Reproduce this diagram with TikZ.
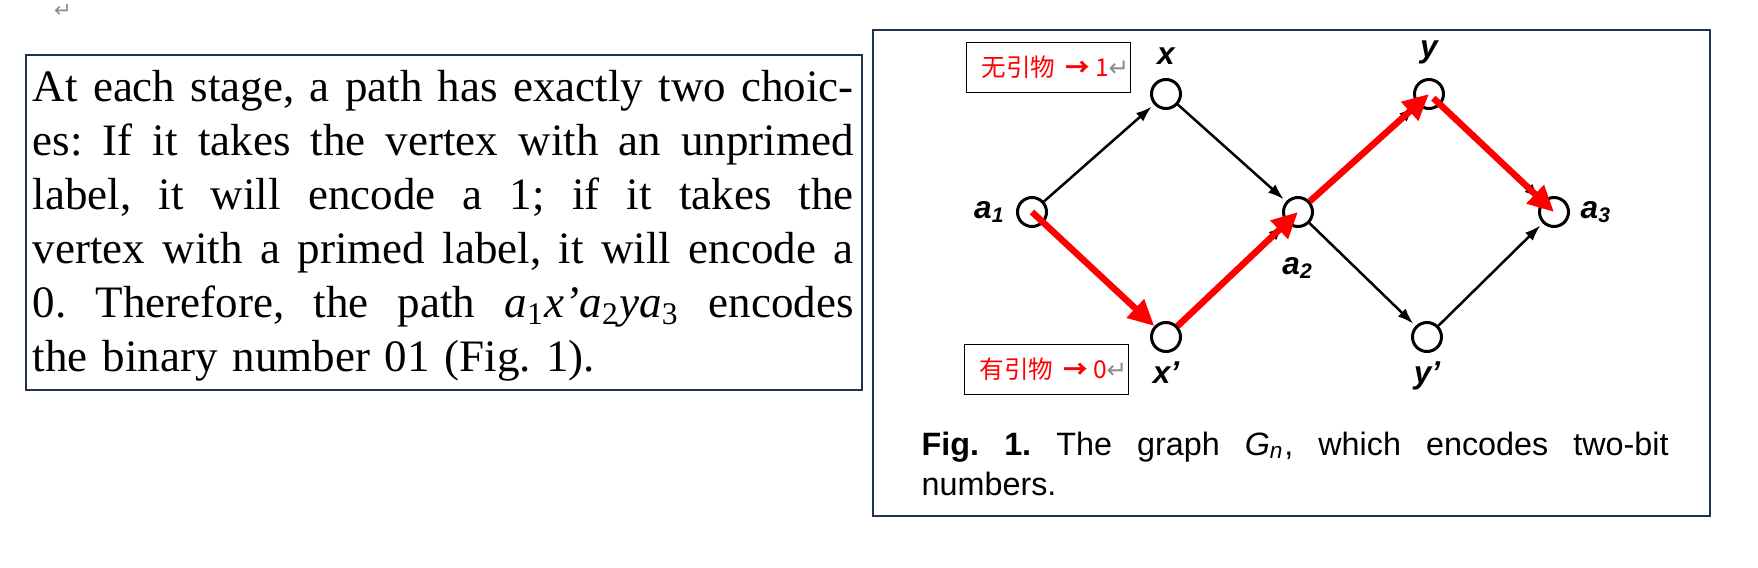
\documentclass[tikz,border=0pt]{standalone}
\usepackage{fontspec}
\usepackage{tikz}
\usepackage{xcolor}
\usetikzlibrary{arrows.meta,calc,positioning}
\setmainfont{Liberation Serif}
\setsansfont{Liberation Sans}
\newfontfamily\cjkfont{Noto Sans CJK SC}
\newfontfamily\markfont{DejaVu Sans}
\definecolor{frameNavy}{RGB}{31,50,80}
\definecolor{pathRed}{RGB}{255,0,0}
\definecolor{markGray}{RGB}{140,140,140}
\newcommand{\retmark}{{\markfont\color{markGray}↵}}
\newcommand{\spreadline}[2]{\makebox[#1][s]{\frenchspacing\spaceskip=0.25em plus 3em minus 0.05em\relax #2}\par}
\newcommand{\primerchip}[3]{%
  \node[
    draw=black,
    line width=0.1mm,
    minimum width=16.4mm,
    minimum height=5mm,
    inner xsep=0pt,
    anchor=north west,
    text=pathRed,
    font=\cjkfont\fontsize{7}{8}\selectfont
  ] (#1) at (#2) {\hspace*{1.4mm}#3};
}
\tikzset{
  vertex/.style={circle,draw=black,fill=white,line width=0.3mm,minimum size=2.9mm,inner sep=0pt},
  vlabel/.style={inner sep=0pt,font=\sffamily\bfseries\itshape\fontsize{9}{10}\selectfont},
  linkarrow/.style={-{Latex[length=1.6mm,width=1.1mm]},line width=0.25mm,shorten >=0.3mm},
  redpath/.style={-{Triangle[length=2.6mm,width=2.4mm]},draw=pathRed,line width=0.65mm},
  panelframe/.style={draw=frameNavy,line width=0.25mm}
}

\begin{document}
\begin{tikzpicture}[x=0.1mm,y=-0.1mm]
  \useasboundingbox (0,0) rectangle (1758,568);
  \node[inner sep=0pt,text=markGray,font=\markfont\fontsize{6}{7}\selectfont] (topmark) at (63,11) {↵};
  % left panel: the quoted passage
  \draw[panelframe] (26,55) rectangle (862,390);
  \node[anchor=base west,inner sep=0pt,text width=82.1mm,
        font=\fontsize{12.8}{15.42}\selectfont] (passage) at (32,101) {%
    \spreadline{82.1mm}{At each stage, a path has exactly two choic-}
    \spreadline{82.1mm}{es: If it takes the vertex with an unprimed}
    \spreadline{82.1mm}{label, it will encode a 1; if it takes the}
    \spreadline{82.1mm}{vertex with a primed label, it will encode a}
    \spreadline{82.1mm}{0. Therefore, the path \textit{a}\textsubscript{1}\textit{x\textquoteright a}\textsubscript{2}\textit{ya}\textsubscript{3} encodes}
    the binary number 01 (Fig.~1).};
  % right panel: the graph
  \draw[panelframe] (873,30) rectangle (1710,516);
  \node[vertex] (a1) at (1032,212) {};
  \node[vertex] (x) at (1166,94) {};
  \node[vertex] (xp) at (1166,337) {};
  \node[vertex] (a2) at (1298,212) {};
  \node[vertex] (y) at (1429,94) {};
  \node[vertex] (yp) at (1427,337) {};
  \node[vertex] (a3) at (1554,212) {};
  \node[vlabel,left=1mm of a1] (la1) {a\textsubscript{1}};
  \node[vlabel,above=1.3mm of x] (lx) {x};
  \node[vlabel,below=0.8mm of xp] (lxp) {x\textquoteright};
  \node[vlabel,below=2.9mm of a2] (la2) {a\textsubscript{2}};
  \node[vlabel,above=1.3mm of y] (ly) {y};
  \node[vlabel,below=0.8mm of yp] (lyp) {y\textquoteright};
  \node[vlabel,right=1mm of a3] (la3) {a\textsubscript{3}};
  \draw[linkarrow] (a1) -- (x);
  \draw[linkarrow] (x) -- (a2);
  \draw[linkarrow] (a1) -- (xp);
  \draw[linkarrow] (xp) -- (a2);
  \draw[linkarrow] (a2) -- (y);
  \draw[linkarrow] (a2) -- (yp);
  \draw[linkarrow] (y) -- (a3);
  \draw[linkarrow] (yp) -- (a3);
  % the chosen path x' then y
  \draw[redpath] (a1.center) -- (xp);
  \draw[redpath] (xp) -- (a2.center);
  \draw[redpath] (a2) -- (y.center);
  \draw[redpath,shorten <=0.6mm] (y.center) -- (a3.center);
  \primerchip{tagone}{966,42}{无引物\hspace{1.0mm}\textbf{→}\hspace{0.5mm}1\retmark}
  \primerchip{tagzero}{964,344}{有引物\hspace{1.0mm}\textbf{→}\hspace{0.5mm}0\retmark}
  \node[anchor=base west,inner sep=0pt,text width=74.7mm,
        font=\sffamily\fontsize{9.2}{11.66}\selectfont] (caption) at (921,455) {%
    \spreadline{74.7mm}{\textbf{Fig. 1.} The graph \textit{G}\textsubscript{\textit{n}}, which encodes two-bit}
    numbers.};
\end{tikzpicture}
\end{document}
